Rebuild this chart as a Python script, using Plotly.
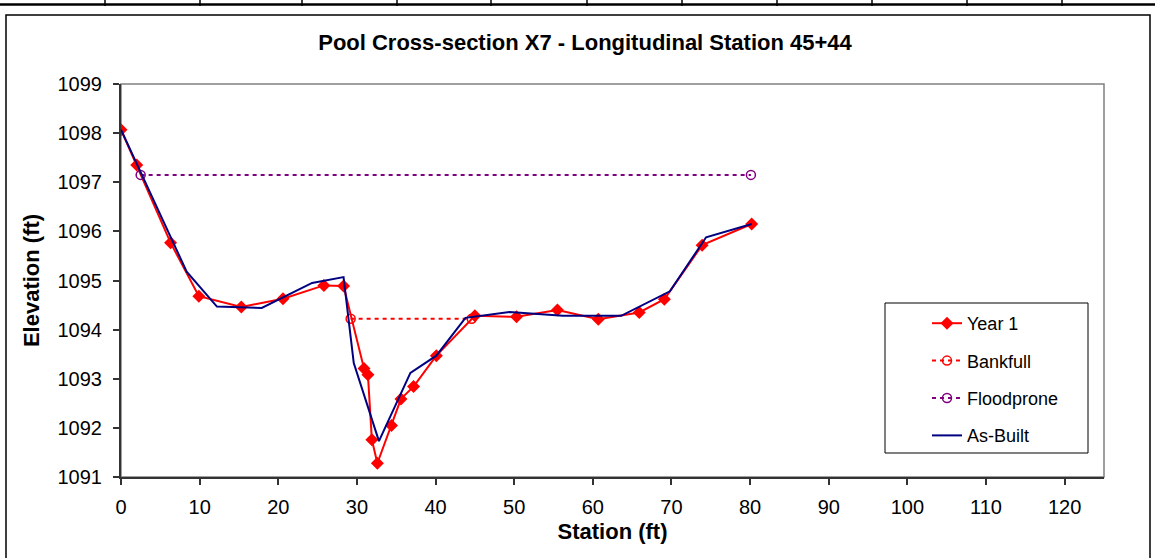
import plotly.graph_objects as go

# Year 1 survey
year1_x = [0, 2.0, 6.3, 9.9, 15.3, 20.6, 25.8, 28.3, 30.9, 31.4, 31.9, 32.6,
           34.4, 35.6, 37.2, 40.1, 45.0, 50.3, 55.5, 60.7, 65.9, 69.1, 73.9, 80.2]
year1_y = [1098.07, 1097.35, 1095.77, 1094.68, 1094.46, 1094.63, 1094.90, 1094.89,
           1093.21, 1093.08, 1091.76, 1091.28, 1092.05, 1092.59, 1092.84, 1093.47,
           1094.28, 1094.26, 1094.40, 1094.21, 1094.35, 1094.62, 1095.72, 1096.15]

# Bankfull / floodprone elevations
bankfull_x = [29.2, 44.6]
bankfull_y = [1094.22, 1094.22]
flood_x = [2.5, 80.1]
flood_y = [1097.15, 1097.15]

# As-built survey
asbuilt_x = [0, 8.35, 12.2, 17.9, 24.3, 28.3, 29.6, 32.8, 36.8, 40.1, 43.8,
             49.4, 56.2, 63.6, 69.8, 74.4, 80.2]
asbuilt_y = [1098.07, 1095.18, 1094.47, 1094.44, 1094.95, 1095.07, 1093.32,
             1091.73, 1093.12, 1093.47, 1094.24, 1094.36, 1094.28, 1094.28,
             1094.78, 1095.88, 1096.15]

x_ticks = list(range(0, 121, 10))
y_ticks = list(range(1091, 1100))

W, H = 1155, 558
SL, ST, SR, SB = 121, 84, 1104, 477   # plot area in pixels
FONT = "Liberation Sans, Arial, sans-serif"


def px(sx):
    return (sx - SL) / (SR - SL)


def py(sy):
    return (SB - sy) / (SB - ST)


fig = go.Figure()

fig.add_trace(go.Scatter(
    x=year1_x, y=year1_y, mode='lines+markers', name='Year 1',
    legendgroup='a',
    line=dict(color='#FF0000', width=2),
    marker=dict(symbol='diamond', size=10, color='#FF0000')
))
fig.add_trace(go.Scatter(
    x=bankfull_x, y=bankfull_y, mode='lines+markers', name='Bankfull',
    legendgroup='b',
    line=dict(color='#FF0000', width=2, dash='4px,4px'),
    marker=dict(symbol='circle-open', size=9, color='#FF0000', line=dict(width=1.5))
))
fig.add_trace(go.Scatter(
    x=flood_x, y=flood_y, mode='lines+markers', name='Floodprone',
    legendgroup='c',
    line=dict(color='#800080', width=2, dash='4px,4px'),
    marker=dict(symbol='circle-open', size=9, color='#800080', line=dict(width=1.5))
))
fig.add_trace(go.Scatter(
    x=asbuilt_x, y=asbuilt_y, mode='lines', name='As-Built',
    legendgroup='d',
    line=dict(color='#000080', width=2)
))

shapes = [
    # plot area border (gray top/right)
    dict(type='rect', xref='paper', yref='paper', x0=0, x1=1, y0=0, y1=1,
         line=dict(color='#808080', width=1.5), layer='below'),
    # outer chart border
    dict(type='rect', xref='paper', yref='paper', x0=px(6), x1=px(1150),
         y0=py(565), y1=py(15), line=dict(color='black', width=1.5)),
    # legend box
    dict(type='rect', xref='paper', yref='paper', x0=px(885), x1=px(1088),
         y0=py(453), y1=py(303), line=dict(color='black', width=1)),
    # spreadsheet row above the chart
    dict(type='line', xref='paper', yref='paper', x0=px(0), x1=px(1155),
         y0=py(4.5), y1=py(4.5), line=dict(color='black', width=2.5)),
]
for cx in [105, 200, 302, 397, 491, 587, 682, 777, 872, 967, 1062]:
    shapes.append(dict(type='line', xref='paper', yref='paper', x0=px(cx), x1=px(cx),
                       y0=py(0), y1=py(6), line=dict(color='black', width=1.5)))

fig.update_layout(
    width=W, height=H,
    margin=dict(l=SL, r=W - SR, t=ST, b=H - SB),
    paper_bgcolor='white', plot_bgcolor='white',
    font=dict(family=FONT, color='black', size=20),
    title=dict(text='Pool Cross-section X7 - Longitudinal Station 45+44',
               font=dict(size=22, weight='bold'), xref='paper', x=px(585),
               xanchor='center', y=1 - 42 / H, yanchor='middle'),
    showlegend=True,
    legend=dict(x=px(927), y=py(305), xanchor='left', yanchor='top',
                bgcolor='rgba(0,0,0,0)', borderwidth=0, font=dict(size=18),
                traceorder='grouped', tracegroupgap=11),
    shapes=shapes,
)

fig.update_xaxes(
    range=[0, 125], tickvals=x_ticks, showgrid=False, zeroline=False,
    showline=True, linecolor='#333333', linewidth=2,
    ticks='outside', ticklen=6, tickcolor='#333333', tickwidth=1.5,
    ticklabelstandoff=5,
    title=dict(text='Station (ft)', font=dict(size=22, weight='bold'), standoff=7)
)
fig.update_yaxes(
    range=[1091, 1099], tickvals=y_ticks, showgrid=False, zeroline=False,
    showline=True, linecolor='#333333', linewidth=2,
    ticks='outside', ticklen=6, tickcolor='#333333', tickwidth=1.5,
    ticklabelstandoff=7,
    title=dict(text='Elevation (ft)', font=dict(size=22, weight='bold'), standoff=12)
)

# drop the browser's default page margin so the figure sits at the window origin
fig.write_html("out.html", config={'displayModeBar': False},
               post_script="document.body.style.margin='0';")
